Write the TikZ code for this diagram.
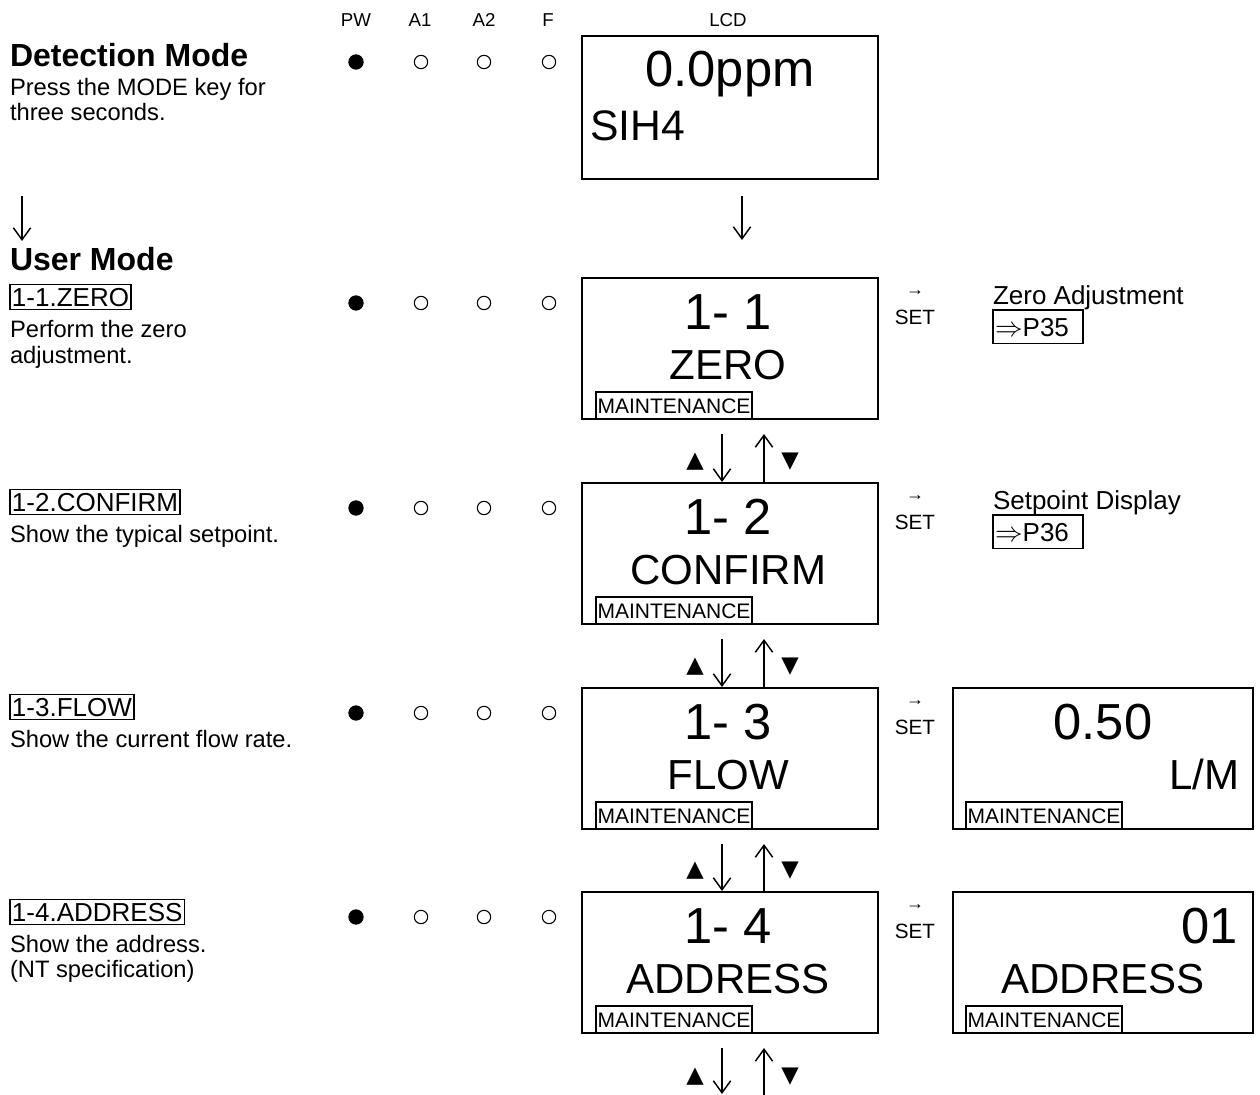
\documentclass[tikz,border=0pt]{standalone}
\usepackage{fontspec}
\setmainfont{Liberation Sans}
\usetikzlibrary{arrows.meta,calc}
\newfontfamily\dejavu{DejaVu Sans}
\begin{document}
\begin{tikzpicture}[x=0.75pt,y=-0.75pt,
  every node/.style={inner sep=0pt, outer sep=0pt},
  lcd/.style={draw, line width=1.5pt, minimum width=222pt, minimum height=105.75pt, anchor=north west},
  lcdr/.style={lcd, minimum width=225pt},
  bigtxt/.style={font=\fontsize{38}{38}\selectfont, anchor=base},
  midtxt/.style={font=\fontsize{31.5}{32}\selectfont, anchor=base},
  maint/.style={draw, line width=1.1pt, inner xsep=1.2pt, inner ysep=4.5pt, text height=11.3pt, text depth=0pt, font=\fontsize{15.75}{16}\selectfont, anchor=south west},
  hdr/.style={font=\fontsize{14}{14}\selectfont, anchor=base},
  ttl/.style={font=\bfseries\fontsize{24}{24}\selectfont, anchor=base west},
  body/.style={font=\fontsize{17.8}{18}\selectfont, anchor=base west},
  lab/.style={draw, line width=1.1pt, inner xsep=1.5pt, inner ysep=2.5pt, font=\fontsize{19.5}{19.5}\selectfont, anchor=base west},
  rtxt/.style={font=\fontsize{19.5}{19.5}\selectfont, anchor=base west},
  ref/.style={draw, line width=1.1pt, anchor=north west, text width=64.5pt, align=left, inner xsep=1.5pt, minimum height=25pt, text height=14pt, text depth=0pt, font=\fontsize{19.5}{19.5}\selectfont},
  setarr/.style={font=\fontsize{13.5}{13.5}\selectfont},
  settxt/.style={font=\fontsize{15.5}{15.5}\selectfont, anchor=base},
  tri/.style={font=\dejavu\fontsize{17}{17}\selectfont},
  ledon/.style={circle, fill=black, minimum size=11.5pt},
  ledoff/.style={circle, draw, line width=0.8pt, minimum size=10pt},
  arr/.style={line width=1.1pt, -{Straight Barb[length=9pt,width=13pt,line width=1.1pt]}}
]
\useasboundingbox (0,0) rectangle (1260,1095);

% header
\node[hdr] (hPW) at (356,27) {PW};
\node[hdr] (hA1) at (420,27) {A1};
\node[hdr] (hA2) at (484,27) {A2};
\node[hdr] (hF) at (548,27) {F};
\node[hdr] (hLCD) at (728,27) {LCD};

% LEDs
\foreach \r/\yy in {0/62,1/303,2/508,3/713,4/917}{
  \node[ledon] (led\r a) at (356,\yy) {};
  \node[ledoff] (led\r b) at (421,\yy) {};
  \node[ledoff] (led\r c) at (484,\yy) {};
  \node[ledoff] (led\r d) at (549,\yy) {};
}

% left column
\node[ttl] (dm) at (10,67) {Detection Mode};
\node[body] (dm1) at (10,96) {Press the MODE key for};
\node[body] (dm2) at (10,121) {three seconds.};
\coordinate (la1) at (22,196);
\coordinate (la2) at (22,241);
\draw[arr] (la1) -- (la2);
\node[ttl] (um) at (10,270) {User Mode};

\node[lab] (l1) at (10,306) {1-1.ZERO};
\node[body] (l1a) at (10,337) {Perform the zero};
\node[body] (l1b) at (10,363) {adjustment.};
\node[lab] (l2) at (10,511) {1-2.CONFIRM};
\node[body] (l2a) at (10,542) {Show the typical setpoint.};
\node[lab] (l3) at (10,716) {1-3.FLOW};
\node[body] (l3a) at (10,747) {Show the current flow rate.};
\node[lab] (l4) at (10,921) {1-4.ADDRESS};
\node[body] (l4a) at (10,952) {Show the address.};
\node[body] (l4b) at (10,977) {(NT specification)};

% LCD boxes
\node[lcd, minimum height=107.25pt] (b0) at (582,36) {};
\node[bigtxt] (b0t) at ($(b0.north)+(0,51)$) {0.0ppm};
\node[font=\fontsize{32}{32}\selectfont, anchor=base west] (b0s) at ($(b0.north west)+(8,105)$) {SIH4};

\node[lcd] (b1) at (582,278) {};
\node[lcd] (b2) at (582,483) {};
\node[lcd] (b3) at (582,688) {};
\node[lcd] (b4) at (582,892) {};
\node[bigtxt] (b1t) at ($(b1.north)+(-2,51)$) {1- 1};
\node[midtxt] (b1u) at ($(b1.north)+(-2,101)$) {ZERO};
\node[bigtxt] (b2t) at ($(b2.north)+(-2,51)$) {1- 2};
\node[midtxt] (b2u) at ($(b2.north)+(-2,101)$) {CONFIRM};
\node[bigtxt] (b3t) at ($(b3.north)+(-2,51)$) {1- 3};
\node[midtxt] (b3u) at ($(b3.north)+(-2,101)$) {FLOW};
\node[bigtxt] (b4t) at ($(b4.north)+(-2,51)$) {1- 4};
\node[midtxt] (b4u) at ($(b4.north)+(-2,101)$) {ADDRESS};
\foreach \b in {b1,b2,b3,b4}{
  \node[maint] (\b m) at ($(\b.south west)+(14,0)$) {MAINTENANCE};
}

% right LCD boxes
\node[lcdr] (r3) at (953,688) {};
\node[lcdr] (r4) at (953,892) {};
\node[bigtxt] (r3t) at ($(r3.north west)+(150,51)$) {0.50};
\node[midtxt, anchor=base east] (r3u) at ($(r3.north east)+(-14,101)$) {L/M};
\node[bigtxt, anchor=base east] (r4t) at ($(r4.north east)+(-15,51)$) {01};
\node[midtxt] (r4u) at ($(r4.north west)+(150,101)$) {ADDRESS};
\node[maint] (r3m) at ($(r3.south west)+(13,0)$) {MAINTENANCE};
\node[maint] (r4m) at ($(r4.south west)+(13,0)$) {MAINTENANCE};

% SET labels
\foreach \r/\yy in {1/278,2/483,3/688,4/892}{
  \node[setarr] (sa\r) at (915,\yy+15) {→};
  \node[settxt] (st\r) at (915,\yy+46) {SET};
}

% right texts
\node[rtxt] (za) at (993,304) {Zero Adjustment};
\node[ref] (p35) at (993,310) {$\Rightarrow$P35};
\node[rtxt] (sd) at (993,509) {Setpoint Display};
\node[ref] (p36) at (993,515) {$\Rightarrow$P36};

% arrows between boxes
\draw[arr] ($(b0.south)+(12,17)$) -- ($(b1.north)+(12,-38)$);
\foreach \u/\d in {b1/b2,b2/b3,b3/b4}{
  \draw[arr] ($(\u.south)+(-8,15)$) -- ($(\d.north)+(-8,-1)$);
  \draw[arr] ($(\d.north)+(34,0)$) -- ($(\u.south)+(34,15)$);
  \node[tri] (\d up) at ($(\d.north)+(-35,-21)$) {▲};
  \node[tri] (\d dn) at ($(\d.north)+(60,-21)$) {▼};
}
\coordinate (e1) at (722,1094);
\coordinate (e2) at (764,1096);
\draw[arr] ($(b4.south)+(-8,15)$) -- (e1);
\draw[arr] (e2) -- ($(b4.south)+(34,15)$);
\node[tri] (b5up) at (695,1077) {▲};
\node[tri] (b5dn) at (790,1077) {▼};
\end{tikzpicture}
\end{document}
